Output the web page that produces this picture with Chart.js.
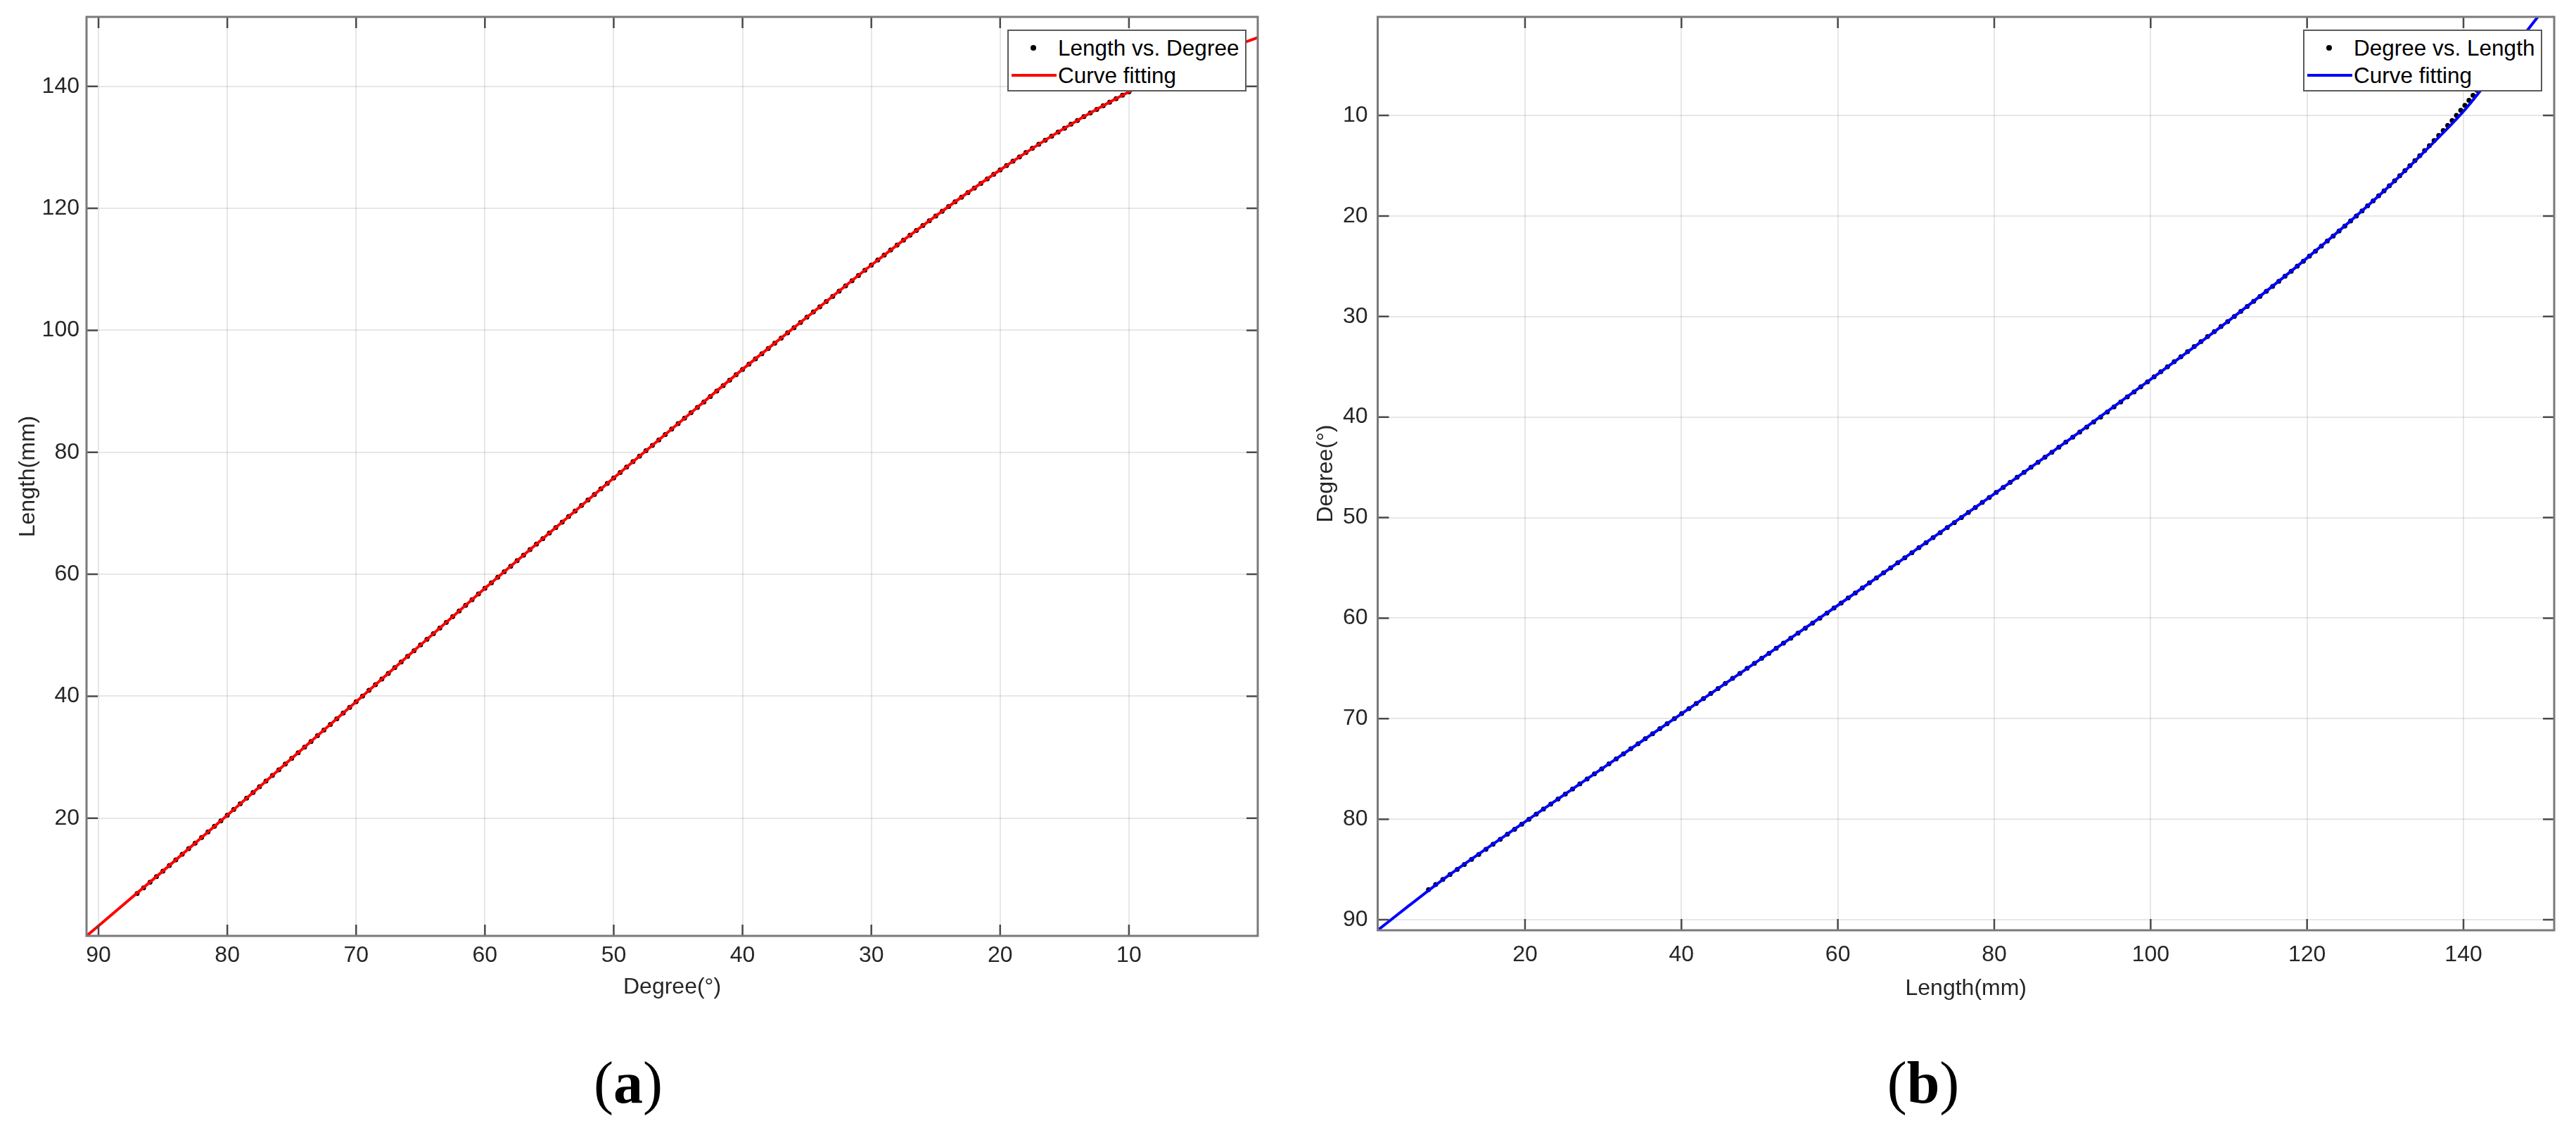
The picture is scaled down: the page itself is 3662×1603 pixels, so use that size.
<!DOCTYPE html>
<html>
<head>
<meta charset="utf-8">
<script src="https://cdn.jsdelivr.net/npm/chart.js@4/dist/chart.umd.min.js"></script>
<style>
  html, body { margin:0; padding:0; background:#fff; width:3662px; height:1603px; overflow:hidden; }
  canvas { position:absolute; top:0; }
  .legend { position:absolute; box-sizing:border-box; background:#fff; border:2.5px solid #5a5a5a;
            font-family:'Liberation Sans', Arial, sans-serif; font-size:31.5px; color:#000; }
  .txt { position:absolute; height:38px; line-height:38px; white-space:nowrap; }
  .dot { position:absolute; width:8px; height:8px; border-radius:50%; background:#000; }
  .ln { position:absolute; height:4px; }
  .cap { position:absolute; font-family:'Liberation Serif', 'Times New Roman', serif; font-size:84px; color:#000;
         transform:translate(-50%,-50%); white-space:nowrap; line-height:1; }
</style>
</head>
<body>
<canvas id="ca" width="1800" height="1470" style="left:0px"></canvas>
<canvas id="cb" width="1822" height="1470" style="left:1840px"></canvas>

<div class="legend" style="left:1432px;top:42px;width:340px;height:88px">
  <div class="dot" style="left:30.5px;top:19.5px"></div>
  <div class="txt" style="left:70px;top:4.5px">Length vs. Degree</div>
  <div class="ln" style="left:3.5px;top:60.5px;width:64px;background:#ff0000"></div>
  <div class="txt" style="left:70px;top:43.5px">Curve fitting</div>
</div>
<div class="legend" style="left:3274px;top:42px;width:340px;height:88px">
  <div class="dot" style="left:30.5px;top:19.5px"></div>
  <div class="txt" style="left:70px;top:4.5px">Degree vs. Length</div>
  <div class="ln" style="left:3.5px;top:60.5px;width:64px;background:#0000ff"></div>
  <div class="txt" style="left:70px;top:43.5px">Curve fitting</div>
</div>

<div class="cap" style="left:893px;top:1539px">(<b>a</b>)</div>
<div class="cap" style="left:2734px;top:1539px">(<b>b</b>)</div>

<script>
// ---------------- DATA ----------------
const aXTicks = [90, 80, 70, 60, 50, 40, 30, 20, 10];
const aYTicks = [20, 40, 60, 80, 100, 120, 140];
const bXTicks = [20, 40, 60, 80, 100, 120, 140];
const bYTicks = [10, 20, 30, 40, 50, 60, 70, 80, 90];

const aXRange = [0, 90.93];
const aYRange = [0.7, 151.4];
const bXRange = [1.16, 151.6];
const bYRange = [0.2, 91.05];

// measured points (degree, length)
const measDeg = [87,86.5,86,85.5,85,84.5,84,83.5,83,82.5,82,81.5,81,80.5,80,
  79.5,79,78.5,78,77.5,77,76.5,76,75.5,75,74.5,74,73.5,73,72.5,72,71.5,71,70.5,70,
  69.5,69,68.5,68,67.5,67,66.5,66,65.5,65,64.5,64,63.5,63,62.5,62,61.5,61,60.5,60,
  59.5,59,58.5,58,57.5,57,56.5,56,55.5,55,54.5,54,53.5,53,52.5,52,51.5,51,50.5,50,
  49.5,49,48.5,48,47.5,47,46.5,46,45.5,45,44.5,44,43.5,43,42.5,42,41.5,41,40.5,40,
  39.5,39,38.5,38,37.5,37,36.5,36,35.5,35,34.5,34,33.5,33,32.5,32,31.5,31,30.5,30,
  29.5,29,28.5,28,27.5,27,26.5,26,25.5,25,24.5,24,23.5,23,22.5,22,21.5,21,20.5,20,
  19.5,19,18.5,18,17.5,17,16.5,16,15.5,15,14.5,14,13.5,13,12.5,12,11.5,11,10.5,10,
  9.5,9,8.5,8,7.5,7,6.5,6,5.5];
const measLen = [7.66,8.57,9.49,10.41,11.33,12.24,13.16,14.08,15.00,15.91,16.83,17.75,18.67,19.58,20.50,
  21.43,22.36,23.29,24.22,25.15,26.08,27.01,27.94,28.87,29.80,30.73,31.66,32.59,33.52,34.45,35.38,36.31,37.24,38.17,39.10,
  40.03,40.96,41.89,42.82,43.75,44.68,45.61,46.54,47.47,48.40,49.33,50.26,51.19,52.12,53.05,53.98,54.91,55.84,56.77,57.70,
  58.61,59.51,60.42,61.32,62.23,63.13,64.04,64.94,65.85,66.75,67.66,68.56,69.47,70.37,71.28,72.18,73.09,73.99,74.90,75.80,
  76.69,77.58,78.47,79.36,80.25,81.14,82.03,82.92,83.81,84.70,85.59,86.48,87.37,88.26,89.15,90.04,90.93,91.82,92.71,93.60,
  94.46,95.31,96.17,97.02,97.88,98.73,99.59,100.44,101.30,102.15,103.01,103.86,104.72,105.57,106.43,107.28,108.14,108.99,109.85,110.70,
  111.53,112.35,113.17,113.98,114.79,115.59,116.39,117.18,117.97,118.75,119.53,120.30,121.07,121.83,122.59,123.34,124.09,124.83,125.57,126.30,
  127.03,127.74,128.45,129.15,129.84,130.52,131.19,131.85,132.51,133.15,133.79,134.41,135.03,135.64,136.24,136.83,137.41,137.98,138.55,139.10,
  139.65,140.18,140.70,141.22,141.72,142.21,142.69,143.16,143.63];

// fitted curve (a): length as a function of degree
const fitADeg = [90.93, 90, 85, 80, 75, 70, 65, 60, 55, 50, 45, 40, 35, 30, 25, 20, 15, 10, 5, 0];
const fitALen = [0.7, 2.35, 11.33, 20.5, 29.8, 39.1, 48.4, 57.7, 66.75, 75.8, 84.7, 93.6, 102.15, 110.7, 118.75, 126.3, 133.15, 139.1, 144.08, 148.0];

// fitted curve (b): degree as a function of length
const fitBLen = [1.16, 5, 10, 20, 30, 40, 50, 60, 70, 80, 90, 100, 110, 120, 130, 135, 140, 145, 149.5, 151.6];
const fitBDeg = [91.05, 88.7, 85.72, 80.27, 74.89, 69.52, 64.14, 58.73, 53.2, 47.64, 42.02, 36.26, 30.41, 24.18, 17.4, 13.6, 9.6, 4.7, 0.2, -1.9];

// ---------------- CHARTS ----------------
const FONT = "'Liberation Sans', Arial, Helvetica, sans-serif";
const TXT = '#262626';
Chart.defaults.font.family = FONT;

const frame = {
  id: 'frame',
  afterDatasetsDraw(chart) {
    const {ctx, chartArea: {left, right, top, bottom}, scales: {x, y}} = chart;
    ctx.save();
    ctx.strokeStyle = '#4a4a4a';
    ctx.lineWidth = 2.5;
    const L = 16;
    ctx.beginPath();
    x.ticks.forEach(t => {
      const p = x.getPixelForValue(t.value);
      ctx.moveTo(p, bottom); ctx.lineTo(p, bottom - L);
      ctx.moveTo(p, top); ctx.lineTo(p, top + L);
    });
    y.ticks.forEach(t => {
      const p = y.getPixelForValue(t.value);
      ctx.moveTo(left, p); ctx.lineTo(left + L, p);
      ctx.moveTo(right, p); ctx.lineTo(right - L, p);
    });
    ctx.stroke();
    ctx.strokeStyle = '#7a7a7a';
    ctx.lineWidth = 3;
    ctx.strokeRect(left, top, right - left, bottom - top);
    ctx.restore();
  }
};

function mkTicks(arr) { return (s) => { s.ticks = arr.map(v => ({value: v})); }; }

function axis(o) {
  return {
    type: 'linear',
    min: o.range[0], max: o.range[1], reverse: !!o.reverse,
    afterBuildTicks: mkTicks(o.ticks),
    afterFit: (s) => {
      o.fit(s);
      s.paddingTop = 0; s.paddingBottom = 0; s.paddingLeft = 0; s.paddingRight = 0;
    },
    grid: {color: 'rgba(0,0,0,0.095)', lineWidth: 2, drawTicks: false},
    border: {display: false},
    ticks: {padding: o.tpad, color: TXT, font: {size: 32, family: FONT}, maxRotation: 0, autoSkip: false,
            callback: (v) => String(v)},
    title: {display: true, text: o.title, color: TXT, font: {size: 32, family: FONT}, padding: o.titlePad}
  };
}

function pts(xs, ys) { return xs.map((v, i) => ({x: v, y: ys[i]})); }

new Chart(document.getElementById('ca'), {
  type: 'scatter',
  data: {
    datasets: [
      {label: 'Curve fitting', data: pts(fitADeg, fitALen), showLine: true, borderColor: '#ff0000',
       borderWidth: 4, pointRadius: 0, cubicInterpolationMode: 'monotone', clip: 0, order: 0},
      {label: 'Length vs. Degree', data: pts(measDeg, measLen), showLine: false, pointRadius: 3.5,
       pointBackgroundColor: '#000', pointBorderWidth: 0, order: 1}
    ]
  },
  options: {
    responsive: false, animation: false, devicePixelRatio: 1,
    layout: {padding: {left: 0, top: 24, right: 12, bottom: 0}},
    plugins: {legend: {display: false}, tooltip: {enabled: false}},
    scales: {
      x: axis({range: aXRange, reverse: true, ticks: aXTicks, tpad: 9, title: 'Degree(°)',
               titlePad: {top: 0, bottom: 48}, fit: (s) => { s.height = 140; }}),
      y: axis({range: aYRange, ticks: aYTicks, tpad: 10, title: 'Length(mm)',
               titlePad: {top: 21, bottom: 0}, fit: (s) => { s.width = 123; }})
    }
  },
  plugins: [frame]
});

new Chart(document.getElementById('cb'), {
  type: 'scatter',
  data: {
    datasets: [
      {label: 'Curve fitting', data: pts(fitBLen, fitBDeg), showLine: true, borderColor: '#0000ff',
       borderWidth: 4, pointRadius: 0, cubicInterpolationMode: 'monotone', clip: 0, order: 0},
      {label: 'Degree vs. Length', data: pts(measLen, measDeg), showLine: false, pointRadius: 3.5,
       pointBackgroundColor: '#000', pointBorderWidth: 0, order: 1}
    ]
  },
  options: {
    responsive: false, animation: false, devicePixelRatio: 1,
    layout: {padding: {left: 0, top: 24, right: 31, bottom: 0}},
    plugins: {legend: {display: false}, tooltip: {enabled: false}},
    scales: {
      x: axis({range: bXRange, ticks: bXTicks, tpad: 16, title: 'Length(mm)',
               titlePad: {top: 0, bottom: 46}, fit: (s) => { s.height = 148; }}),
      y: axis({range: bYRange, reverse: true, ticks: bYTicks, tpad: 14, title: 'Degree(°)',
               titlePad: {top: 26, bottom: 0}, fit: (s) => { s.width = 118.5; }})
    }
  },
  plugins: [frame]
});
</script>
</body>
</html>
